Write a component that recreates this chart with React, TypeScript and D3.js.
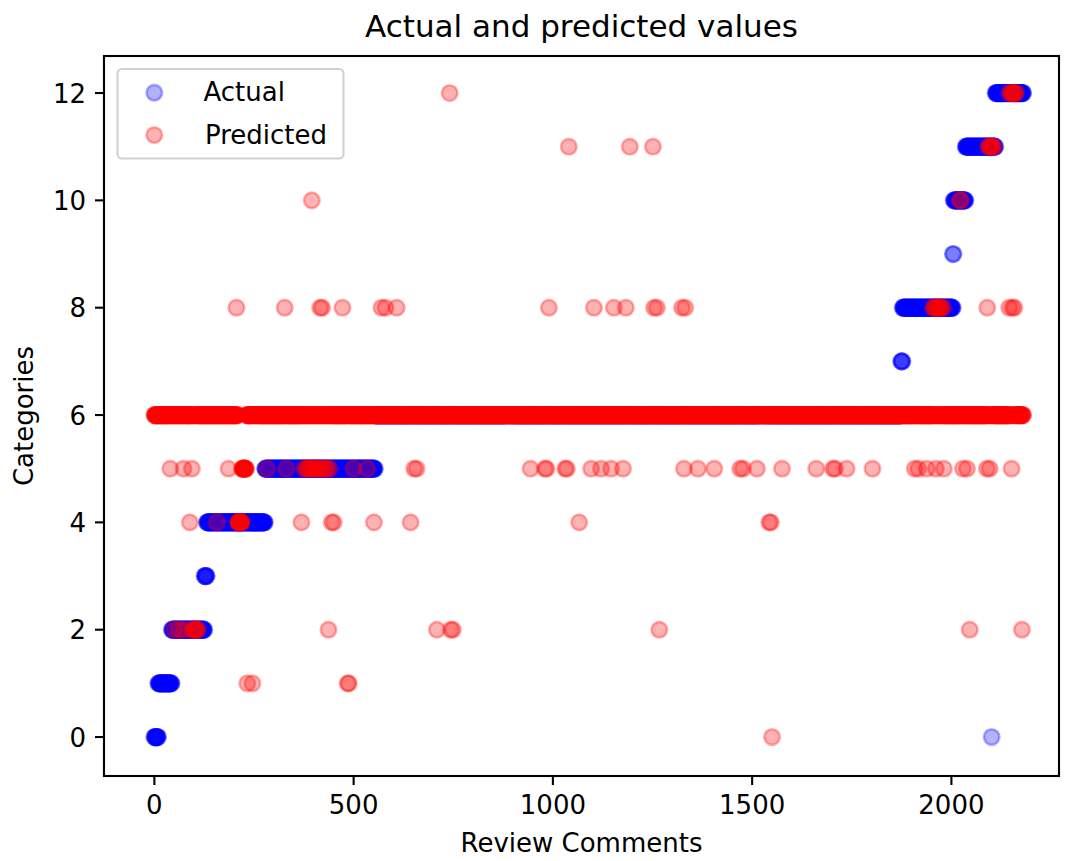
import React from "react";
import * as d3 from "d3";

// plot box (pixels) of the axes area
const plot = { left: 104, right: 1059, top: 56, bottom: 776 };

const xTicks = [0, 500, 1000, 1500, 2000];
const yTicks = [0, 2, 4, 6, 8, 10, 12];
const xDomain = [-126.4, 2270];
const yDomain = [-0.726, 12.69];
const nComments = 2181;

// actual category of each review comment, read as runs [from, to, category]
const actualRuns: [number, number, number][] = [
  [0, 9, 0],
  [10, 43, 1],
  [44, 125, 2],
  [126, 131, 3],
  [132, 277, 4],
  [278, 553, 5],
  [554, 1873, 6],
  [1874, 1877, 7],
  [1878, 2003, 8],
  [2004, 2005, 9],
  [2006, 2035, 10],
  [2036, 2100, 11],
  [2101, 2101, 0],
  [2102, 2110, 11],
  [2111, 2180, 12],
];

// predicted category: 6 almost everywhere, except the runs and points below
const predictedDefault = 6;
const predictedRuns: [number, number, number][] = [
  [210, 219, 4],
  [220, 230, 5],
];
const predictedPoints: [number, number][] = [
  [1550, 0],
  [233, 1], [246, 1], [485, 1], [488, 1],
  [50, 2], [62, 2], [75, 2], [96, 2], [99, 2], [101, 2], [104, 2], [106, 2], [109, 2],
  [437, 2], [709, 2], [744, 2], [749, 2], [1267, 2], [2046, 2], [2177, 2],
  [89, 4], [157, 4], [369, 4], [445, 4], [450, 4], [551, 4], [643, 4], [1066, 4], [1543, 4], [1547, 4],
  [40, 5], [73, 5], [94, 5], [186, 5], [283, 5], [331, 5],
  [376, 5], [381, 5], [385, 5], [388, 5], [392, 5], [397, 5], [401, 5], [405, 5],
  [409, 5], [413, 5], [418, 5], [421, 5], [426, 5], [430, 5], [434, 5], [439, 5],
  [500, 5], [534, 5], [652, 5], [658, 5], [944, 5], [980, 5], [984, 5], [1031, 5], [1035, 5],
  [1096, 5], [1121, 5], [1146, 5], [1176, 5], [1329, 5], [1364, 5], [1405, 5], [1470, 5],
  [1477, 5], [1512, 5], [1575, 5], [1661, 5], [1703, 5], [1708, 5], [1737, 5], [1802, 5],
  [1908, 5], [1917, 5], [1938, 5], [1961, 5], [1981, 5], [2029, 5], [2039, 5], [2089, 5],
  [2096, 5], [2151, 5],
  [206, 8], [327, 8], [416, 8], [421, 8], [472, 8], [570, 8], [580, 8], [608, 8], [990, 8],
  [1103, 8], [1153, 8], [1183, 8], [1254, 8], [1261, 8], [1324, 8], [1332, 8],
  [1954, 8], [1957, 8], [1960, 8], [1963, 8], [1966, 8], [1969, 8], [1972, 8], [1975, 8], [1979, 8],
  [2090, 8], [2145, 8], [2153, 8], [2158, 8],
  [395, 10], [2021, 10], [2024, 10],
  [1040, 11], [1193, 11], [1251, 11],
  [2093, 11], [2095, 11], [2098, 11], [2101, 11], [2103, 11], [2106, 11],
  [741, 12],
  [2146, 12], [2149, 12], [2152, 12], [2155, 12], [2157, 12], [2160, 12], [2162, 12],
];

const seriesColors = { actual: "#0000ff", predicted: "#ff0000" };
const legendLabels = ["Actual", "Predicted"];

function buildSeries() {
  const actual: number[] = new Array(nComments).fill(0);
  actualRuns.forEach(([a, b, c]) => {
    for (let i = a; i <= b; i++) actual[i] = c;
  });
  const predicted: number[] = new Array(nComments).fill(predictedDefault);
  predictedRuns.forEach(([a, b, c]) => {
    for (let i = a; i <= b; i++) predicted[i] = c;
  });
  predictedPoints.forEach(([i, c]) => (predicted[i] = c));
  return { actual, predicted };
}

const R = 7.8;
const EDGE = 2.6;
const ALPHA = 0.3;
const FONT = "DejaVu Sans";

export default function App() {
  const { actual, predicted } = buildSeries();
  const x = d3.scaleLinear().domain(xDomain).range([plot.left, plot.right]);
  const y = d3.scaleLinear().domain(yDomain).range([plot.bottom, plot.top]);

  const dot = (cx: number, cy: number, color: string, key: string) => (
    <circle
      key={key}
      cx={cx}
      cy={cy}
      r={R}
      fill={color}
      fillOpacity={ALPHA}
      stroke={color}
      strokeOpacity={ALPHA}
      strokeWidth={EDGE}
    />
  );

  const cx = (plot.left + plot.right) / 2;

  return (
    <div style={{ position: "absolute", left: 0, top: 0 }}>
      <svg width={1065} height={861} fontFamily={FONT}>
        <rect width={1065} height={861} fill="#fff" />
        <text x={cx} y={37} fontSize={31} textAnchor="middle" fill="#000">
          Actual and predicted values
        </text>

        {/* points */}
        <g>{actual.map((v, i) => dot(x(i), y(v), seriesColors.actual, "a" + i))}</g>
        <g>{predicted.map((v, i) => dot(x(i), y(v), seriesColors.predicted, "p" + i))}</g>

        {/* spines */}
        <rect
          x={plot.left}
          y={plot.top}
          width={plot.right - plot.left}
          height={plot.bottom - plot.top}
          fill="none"
          stroke="#000"
          strokeWidth={2.1}
        />

        {/* x ticks */}
        {xTicks.map((t) => (
          <g key={"xt" + t}>
            <line x1={x(t)} x2={x(t)} y1={plot.bottom} y2={plot.bottom + 9} stroke="#000" strokeWidth={2.1} />
            <text x={x(t)} y={plot.bottom + 38} fontSize={26} textAnchor="middle" fill="#000">
              {t}
            </text>
          </g>
        ))}
        {/* y ticks */}
        {yTicks.map((t) => (
          <g key={"yt" + t}>
            <line x1={plot.left - 9} x2={plot.left} y1={y(t)} y2={y(t)} stroke="#000" strokeWidth={2.1} />
            <text x={plot.left - 18} y={y(t) + 9.5} fontSize={26} textAnchor="end" fill="#000">
              {t}
            </text>
          </g>
        ))}

        <text x={cx} y={852} fontSize={26} textAnchor="middle" fill="#000">
          Review Comments
        </text>
        <text
          transform={`translate(33,${(plot.top + plot.bottom) / 2}) rotate(-90)`}
          fontSize={26}
          textAnchor="middle"
          fill="#000"
        >
          Categories
        </text>

        {/* legend */}
        <rect x={117.5} y={69} width={226} height={89.5} rx={4.5} fill="#fff" fillOpacity={0.8} stroke="#d0d0d0" strokeWidth={2} />
        {legendLabels.map((label, i) => {
          const ly = 92.7 + i * 42.3;
          const color = i === 0 ? seriesColors.actual : seriesColors.predicted;
          return (
            <g key={label}>
              {dot(154.3, ly, color, "l" + i)}
              <text x={i === 0 ? 203.5 : 205} y={ly + 8.5} fontSize={26} fill="#000">
                {label}
              </text>
            </g>
          );
        })}
      </svg>
    </div>
  );
}
